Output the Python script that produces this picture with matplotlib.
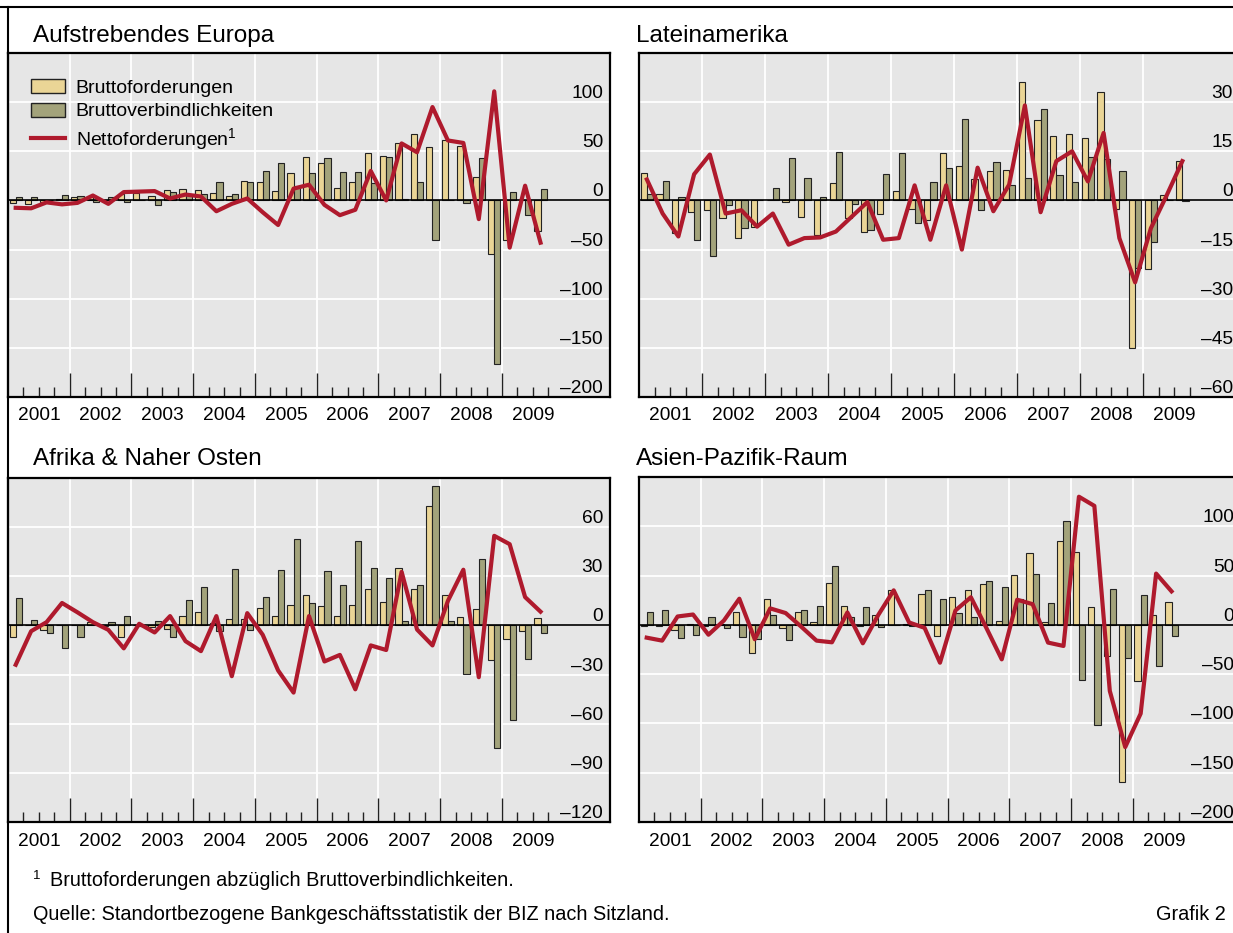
import matplotlib
matplotlib.use('Agg')
import matplotlib.pyplot as plt
import numpy as np
from matplotlib.transforms import blended_transform_factory, offset_copy
from matplotlib.patches import Patch
from matplotlib.lines import Line2D

plt.rcParams['font.family'] = ['Liberation Sans', 'DejaVu Sans']
plt.rcParams['mathtext.fontset'] = 'custom'
plt.rcParams['mathtext.rm'] = 'Liberation Sans'
plt.rcParams['mathtext.it'] = 'Liberation Sans'
plt.rcParams['mathtext.default'] = 'regular'

# ---------------- data (quarterly, 2001 Q1 onwards) ----------------
years = ['2001', '2002', '2003', '2004', '2005', '2006', '2007', '2008', '2009']

eu_claims = [-3, -4, -2, 1, 3, 3, 0, 7, 8, 5, 11, 12, 11, 8, 4, 20, 19, 10, 28, 44,
             38, 13, 19, 48, 45, 58, 68, 54, 61, 55, 24, -55, -40, 0, -31]
eu_liab = [3, 3, 0, 6, 5, -2, 3, -2, 0, -5, 9, 6, 7, 19, 7, 19, 30, 38, 15, 28,
           43, 29, 29, 18, 44, 1, 19, -40, 0, -3, 43, -166, 9, -15, 12]
eu_net = [-7.5, -8, -2, -4, -2.5, 5, -3.5, 8.5, 9, 9.5, 2, 6, 4, -11, -3.5, 2, -12, -25, 12, 16,
          -4.5, -15, -9.5, 30, 0, 58, 49, 95, 61, 58.5, -19, 111, -48, 15, -43]

la_claims = [8.5, 2, -10, -3.5, -3, -5.5, -11.5, -8, 0, -0.5, -5, -10.5, 5.3, -5.5, -9.5, -4, 3, -2.5, -6, 14.5,
             10.4, 6.5, 9, 9.3, 36, 24.5, 19.7, 20.4, 19, 33, -2.5, -45, -21, 1.7, 12]
la_liab = [2, 6, 1, -12, -17, -1.5, -8.5, 0, 3.8, 13, 6.7, 1, 14.8, -1, -9, 8.2, 14.5, -6.8, 5.7, 10,
           25, -3, 11.8, 4.6, 6.8, 28, 7.8, 5.5, 13.3, 12.5, 9, -20.5, -12.6, 0, -0.3]
la_net = [6.4, -4, -11, 8, 14, -4, -3, -8, -4, -13.5, -11.5, -11.3, -9.5, -5, -0.5, -12, -11.5, 4.6, -12, 4.6,
          -15, 10, -3.3, 4.8, 29, -3.6, 12, 15, 5.8, 20.6, -11.5, -25, -8.5, 1.5, 12]

af_claims = [-7, 0, -2.5, 0.4, 0.5, 2, -0.5, -7, 0.5, -1, -2, 6, 8.5, 1.5, 4, 4, 10.4, 6, 12.5, 18.5,
             12, 6, 12.5, 22.5, 14, 35, 22.4, 73, 18.6, 5, 10, -20.8, -8.4, -3.7, 4.3]
af_liab = [16.7, 3.5, -4.5, -13.5, -7, 0, 2, 5.7, -0.5, 3, -7, 15.5, 23.5, -3.5, 34.5, -3, 17.5, 34, 53, 13.5,
           33.5, 24.5, 51.5, 35, 29, 2.7, 24.5, 85, 2.7, -29.5, 40.4, -75, -58, -20.6, -4.5]
af_net = [-24, -3.5, 2, 13.7, 8, 2, -2.7, -14, 1, -4.3, 5.7, -9.6, -15.7, 5.7, -31, 7.5, -5.7, -27.5, -41, 5.7,
          -22, -18, -39, -12.2, -15, 32.7, -2.5, -12.2, 15, 34, -31.6, 54.7, 49.6, 17.3, 8.4]

ap_claims = [-0.7, -0.7, -5, 0.7, -1.5, 1, 13, -28.5, 26, -3.5, 13, 3, 42, 19.4, -0.7, 10, 35, 0.7, 31, -11,
             28, 35, 41, 4, 51, 73, 3.4, 85, 74, 18.4, -32, -159, -57, 9.5, 23]
ap_liab = [12.6, 15, -13, -10, 8, -3.4, -12, -14, 10, -15.6, 14.6, 18.7, 60, 7.5, 18, -1.7, 0.3, -1.5, 35, 26,
           12, 7.5, 45, 38.5, 26.5, 52, 22, 105, -55.8, -102, 36, -34, 30.6, -42, -11.6]
ap_net = [-13, -16, 8.5, 10.5, -10, 4.4, 26.5, -14.6, 16.7, 12, -1.7, -16, -17.7, 12.6, -18.7, 10, 35, 2.4, -3, -38.4,
          14.6, 28, -3, -35, 25.5, 21, -18, -21.4, 130, 120.7, -67, -124, -90, 52, 34]

titles = ['Aufstrebendes Europa', 'Lateinamerika', 'Afrika & Naher Osten', 'Asien-Pazifik-Raum']
yticks_eu = [100, 50, 0, -50, -100, -150, -200]
yticks_la = [30, 15, 0, -15, -30, -45, -60]
yticks_af = [60, 30, 0, -30, -60, -90, -120]
yticks_ap = [100, 50, 0, -50, -100, -150, -200]
legend_labels = ['Bruttoforderungen', 'Bruttoverbindlichkeiten', 'Nettoforderungen$^1$']

# ---------------- styling ----------------
W, H = 1233, 933
BEIGE = '#EAD596'
OLIVE = '#A3A37B'
RED = '#AF1A2D'
BG = '#E6E6E6'
FS = 13.8
FS_TITLE = 17.5
FS_LEG = 14
FS_NOTE = 14.3

fig = plt.figure(figsize=(W / 100, H / 100), dpi=100)


def box(l, t, r, b):
    return [l / W, 1 - b / H, (r - l) / W, (b - t) / H]


# (title, claims, liabilities, net, ylim, yticks, axes box, x-extent in quarters, title pos, legend)
panels = [
    (titles[0], eu_claims, eu_liab, eu_net, (-200, 150), yticks_eu, box(8, 53, 610, 397), 39.0, (33, 42), True),
    (titles[1], la_claims, la_liab, la_net, (-60, 45), yticks_la, box(639, 53, 1240, 397), 38.16, (636, 42), False),
    (titles[2], af_claims, af_liab, af_net, (-120, 90), yticks_af, box(8, 478, 610, 822), 39.0, (33, 465), False),
    (titles[3], ap_claims, ap_liab, ap_net, (-200, 150), yticks_ap, box(639, 477, 1241, 822), 39.0, (636, 465), False),
]

for title, claims, liab, net, ylim, yt, rect, xmax, tpos, leg in panels:
    ax = fig.add_axes(rect)
    n = len(net)
    xs = np.arange(n) + 0.5
    ax.set_facecolor(BG)
    ax.set_xlim(0, xmax)
    ax.set_ylim(*ylim)
    for t in yt:
        if t not in (0, ylim[0]):
            ax.axhline(t, color='white', lw=1.3, zorder=0.5)
    for k in range(4, 33, 4):
        ax.axvline(k, color='white', lw=1.3, zorder=0.5)
    ax.bar(xs - 0.2, claims, width=0.4, color=BEIGE, edgecolor='#222222', linewidth=0.8, zorder=2)
    ax.bar(xs + 0.2, liab, width=0.4, color=OLIVE, edgecolor='#222222', linewidth=0.8, zorder=2)
    ax.axhline(0, color='black', lw=1.2, zorder=2.5)
    ax.plot(xs, net, color=RED, lw=3.0, zorder=3)

    ax.set_xticks(range(4, 33, 4))
    ax.set_xticks([i for i in range(1, 36) if i % 4], minor=True)
    ax.tick_params(axis='x', which='major', direction='in', length=17, width=1.0, color='#222222',
                   labelbottom=False)
    ax.tick_params(axis='x', which='minor', direction='in', length=7, width=1.0, color='#222222')
    ax.set_yticks([])
    for s in ax.spines.values():
        s.set_linewidth(1.6)
        s.set_color('black')

    tr_y = offset_copy(blended_transform_factory(ax.transAxes, ax.transData), fig=fig, x=-7, y=4, units='dots')
    for t in yt:
        lab = str(t) if t >= 0 else '\u2013' + str(-t)
        ax.text(1, t, lab, transform=tr_y, ha='right', va='baseline', fontsize=FS, zorder=4)

    tr_x = offset_copy(blended_transform_factory(ax.transData, ax.transAxes), fig=fig, x=0, y=-19, units='dots')
    for k, yr in enumerate(years):
        ax.text(4 * k + 2, 0, yr, transform=tr_x, ha='center', va='center', fontsize=FS, clip_on=False)

    fig.text(tpos[0] / W, 1 - tpos[1] / H, title, fontsize=FS_TITLE, va='baseline', ha='left')

    if leg:
        h1 = Patch(facecolor=BEIGE, edgecolor='#222222', linewidth=1.0)
        h2 = Patch(facecolor=OLIVE, edgecolor='#222222', linewidth=1.0)
        h3 = Line2D([], [], color=RED, lw=3.0)
        ax.legend([h1, h2, h3], legend_labels, loc='upper left', bbox_to_anchor=(0.038, 0.925),
                  frameon=False, fontsize=FS_LEG, handlelength=1.75, handleheight=0.75,
                  handletextpad=0.55, labelspacing=0.3, borderpad=0, borderaxespad=0)

# frame lines
fig.add_artist(Line2D([0, 1], [1 - 7 / H, 1 - 7 / H], color='black', lw=1.5, transform=fig.transFigure))
fig.add_artist(Line2D([8 / W, 8 / W], [0, 1 - 7 / H], color='black', lw=1.5, transform=fig.transFigure))

# footnotes
fig.text(33 / W, 1 - 879 / H, '1', fontsize=9.5, va='baseline')
fig.text(50 / W, 1 - 886 / H, 'Bruttoforderungen abzüglich Bruttoverbindlichkeiten.', fontsize=FS_NOTE,
         va='baseline')
fig.text(33 / W, 1 - 920 / H, 'Quelle: Standortbezogene Bankgeschäftsstatistik der BIZ nach Sitzland.',
         fontsize=FS_NOTE, va='baseline')
fig.text(1226 / W, 1 - 920 / H, 'Grafik 2', fontsize=FS_NOTE, va='baseline', ha='right')

fig.savefig('out.png', dpi=100)
